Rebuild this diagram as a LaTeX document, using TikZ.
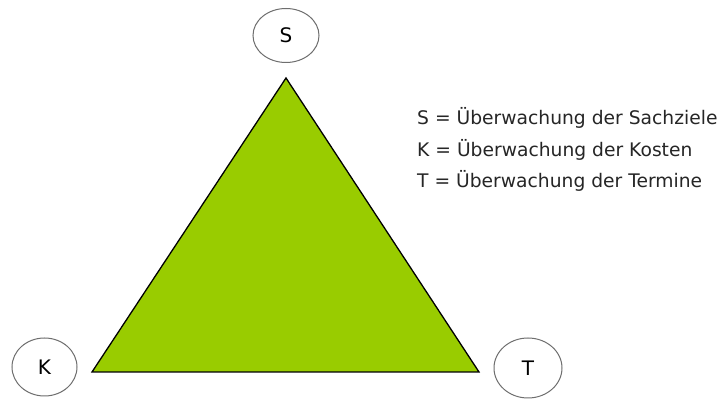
\documentclass[tikz,border=0pt]{standalone}
\usepackage{fontspec}
\setmainfont{DejaVu Sans}
\usetikzlibrary{shapes.geometric}
\definecolor{tri}{HTML}{99CC00}
\definecolor{ring}{HTML}{6E6E6E}
\tikzset{
  corner/.style={ellipse, draw=ring, line width=1pt, fill=white, minimum width=66pt, minimum height=54pt, inner sep=0pt, font=\fontsize{20}{22}\selectfont},
  legend/.style={anchor=base west, inner sep=0pt, font=\fontsize{18.7}{21}\selectfont, text=black!85}
}
\begin{document}
\begin{tikzpicture}[x=1pt,y=1pt]
\useasboundingbox[fill=white] (0,0) rectangle (726,399);
\coordinate (A) at (286,321);
\coordinate (B) at (92,27);
\coordinate (C) at (479,27);
\filldraw[fill=tri, draw=black, line width=1.3pt, line join=miter] (A) -- (B) -- (C) -- cycle;
\node[corner] (S) at (286,363.5) {S};
\node[corner, minimum width=65pt, minimum height=58pt] (K) at (44.5,32) {K};
\node[corner, minimum width=68pt, minimum height=60pt] (T) at (528,31) {T};
\node[legend] (l1) at (417,274) {S = Überwachung der Sachziele};
\node[legend] (l2) at (417,242) {K = Überwachung der Kosten};
\node[legend] (l3) at (417,211) {T = Überwachung der Termine};
\end{tikzpicture}
\end{document}
